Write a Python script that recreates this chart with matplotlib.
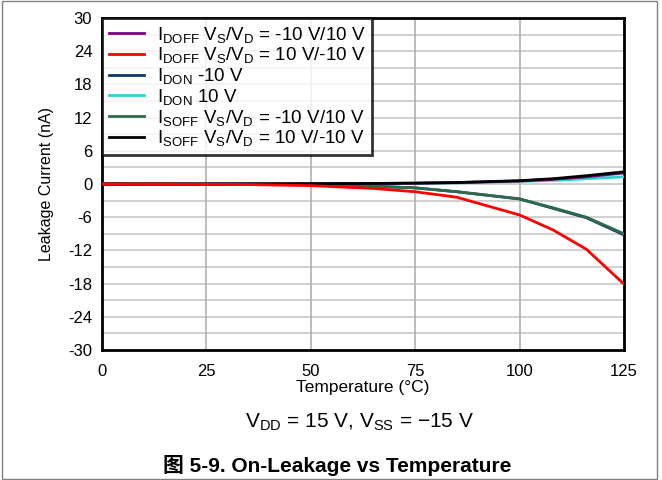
import matplotlib
matplotlib.use("Agg")
import matplotlib.pyplot as plt
from matplotlib.patches import Rectangle

plt.rcParams['font.family'] = ['Liberation Sans', 'DejaVu Sans']
plt.rcParams['mathtext.fontset'] = 'custom'
plt.rcParams['mathtext.rm'] = 'Liberation Sans'
plt.rcParams['mathtext.it'] = 'Liberation Sans'
plt.rcParams['axes.unicode_minus'] = False

temps = [0, 25, 35, 50, 65, 75, 85, 100, 108, 116, 125]
idoff_neg = [0.0, 0.0, 0.02, 0.05, 0.1, 0.15, 0.25, 0.55, 0.85, 1.3, 2.0]
idoff_pos = [0.0, -0.05, -0.1, -0.3, -0.8, -1.4, -2.4, -5.6, -8.3, -11.8, -18.1]
idon_neg = [0.0, -0.02, -0.05, -0.1, -0.4, -0.7, -1.4, -2.7, -4.4, -6.1, -9.2]
idon_pos = [0.0, 0.0, 0.02, 0.04, 0.08, 0.12, 0.2, 0.45, 0.65, 0.95, 1.3]
isoff_neg = [0.0, -0.02, -0.05, -0.1, -0.4, -0.7, -1.4, -2.7, -4.3, -6.0, -9.0]
isoff_pos = [0.0, 0.0, 0.02, 0.05, 0.1, 0.16, 0.27, 0.6, 0.95, 1.5, 2.2]

labels = [
    r"I$_{\mathrm{DOFF}}$ V$_{\mathrm{S}}$/V$_{\mathrm{D}}$ = -10 V/10 V",
    r"I$_{\mathrm{DOFF}}$ V$_{\mathrm{S}}$/V$_{\mathrm{D}}$ = 10 V/-10 V",
    r"I$_{\mathrm{DON}}$ -10 V",
    r"I$_{\mathrm{DON}}$ 10 V",
    r"I$_{\mathrm{SOFF}}$ V$_{\mathrm{S}}$/V$_{\mathrm{D}}$ = -10 V/10 V",
    r"I$_{\mathrm{SOFF}}$ V$_{\mathrm{S}}$/V$_{\mathrm{D}}$ = 10 V/-10 V",
]
colors = ['#800080', '#ff0000', '#0b3a6b', '#30d0d0', '#2e6b4a', '#000000']
series = [idoff_neg, idoff_pos, idon_neg, idon_pos, isoff_neg, isoff_pos]
zorders = [4, 6, 3, 3.5, 5, 5.5]

xticks = [0, 25, 50, 75, 100, 125]
yticks = [30, 24, 18, 12, 6, 0, -6, -12, -18, -24, -30]

fig = plt.figure(figsize=(6.62, 4.8), dpi=100)
fig.patches.append(Rectangle((0.003, 0.003), 0.990, 0.994, transform=fig.transFigure,
                             fill=False, edgecolor='#808080', linewidth=1.0))
ax = fig.add_axes([102/662, 1-350/480, (624-102)/662, (350-18)/480])

for y in range(-30, 31, 3):
    ax.axhline(y, color='#c8c8c8', linewidth=1.2, zorder=1)
for x in xticks:
    ax.axvline(x, color='#b0b0b0', linewidth=1.2, zorder=1)

handles = []
for s, c, lab, z in zip(series, colors, labels, zorders):
    h, = ax.plot(temps, s, color=c, linewidth=2.0, label=lab, zorder=z)
    handles.append(h)

ax.set_xlim(0, 125)
ax.set_ylim(-30, 30)
ax.set_xticks(xticks)
ax.set_yticks(yticks)
ax.tick_params(length=0, labelsize=12)
ax.tick_params(axis='x', pad=10)
ax.tick_params(axis='y', pad=7)
for sp in ax.spines.values():
    sp.set_linewidth(2.0)
    sp.set_color('black')
ax.set_xlabel("Temperature (°C)", fontsize=12.5, labelpad=1)
ax.set_ylabel("Leakage Current (nA)", fontsize=11.5, labelpad=10)

leg = ax.legend(handles=handles, loc='upper left', bbox_to_anchor=(0.0, 1.0),
                fontsize=13.5, frameon=True, fancybox=False, borderaxespad=0.0,
                labelspacing=0.04, handlelength=1.9, handletextpad=0.7,
                borderpad=0.35)
leg.get_frame().set_edgecolor('black')
leg.get_frame().set_linewidth(2.0)
leg.set_zorder(10)

fig.text(360/662, 1-422/480, r"V$_{\mathrm{DD}}$ = 15 V, V$_{\mathrm{SS}}$ = −15 V",
         ha='center', va='center', fontsize=15)
fig.text(337/662, 1-466/480, "图 5-9. On-Leakage vs Temperature",
         ha='center', va='center', fontsize=15, fontweight='bold',
         family=['Liberation Sans', 'Noto Sans CJK SC'])

fig.savefig("out.png", dpi=100)
